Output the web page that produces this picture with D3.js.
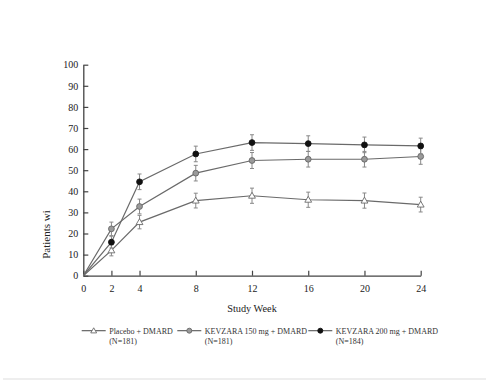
<!DOCTYPE html>
<html>
<head>
<meta charset="utf-8">
<script src="https://cdn.jsdelivr.net/npm/d3@7"></script>
<style>
  body { margin: 0; background: #fff; }
  svg text { font-family: "Liberation Serif", "DejaVu Serif", serif; }
</style>
</head>
<body>
<svg id="chart"></svg>
<script>
// Data (percent of patients, by study week)
const weeks = [0, 2, 4, 8, 12, 16, 20, 24];
const xTicks = [0, 2, 4, 8, 12, 16, 20, 24];
const yTicks = [0, 10, 20, 30, 40, 50, 60, 70, 80, 90, 100];
const placebo = [0, 12.0, 25.4, 35.6, 37.9, 36.0, 35.6, 33.7];
const kev150 = [0, 22.2, 32.8, 48.6, 54.6, 55.2, 55.2, 56.5];
const kev200 = [0, 15.9, 44.5, 57.7, 63.1, 62.6, 62.0, 61.5];
const errPlacebo = [0, 2.6, 3.2, 3.5, 3.6, 3.6, 3.6, 3.5];
const err150 = [0, 3.2, 3.5, 3.7, 3.8, 3.7, 3.7, 3.7];
const err200 = [0, 2.8, 3.7, 3.7, 3.7, 3.7, 3.7, 3.7];
const legendNames = ["Placebo + DMARD", "KEVZARA 150 mg + DMARD", "KEVZARA 200 mg + DMARD"];
const legendNs = ["(N=181)", "(N=181)", "(N=184)"];

const W = 486, H = 383;
const svg = d3.select("#chart").attr("width", W).attr("height", H);

const x = d3.scaleLinear().domain([0, 24]).range([83.3, 420.7]);
const y = d3.scaleLinear().domain([0, 100]).range([275.7, 64.7]);

const axisColor = "#444";
const lineColor = "#6a6a6a";

// y axis (inward ticks)
const gy = svg.append("g")
  .attr("transform", `translate(${x(0)},0)`)
  .call(d3.axisLeft(y).tickValues(yTicks).tickSize(-5).tickPadding(5).tickSizeOuter(0))
  .attr("font-family", null);
gy.select(".domain").attr("stroke", axisColor).attr("stroke-width", 1.3);
gy.selectAll(".tick line").attr("stroke", axisColor).attr("stroke-width", 1.2);
gy.selectAll(".tick text").attr("font-size", 10).attr("fill", "#222");

// x axis (inward ticks)
const gx = svg.append("g")
  .attr("transform", `translate(0,${y(0)})`)
  .call(d3.axisBottom(x).tickValues(xTicks).tickSize(-5).tickPadding(9).tickSizeOuter(0))
  .attr("font-family", null);
gx.select(".domain").attr("stroke", axisColor).attr("stroke-width", 1.3);
gx.selectAll(".tick line").attr("stroke", axisColor).attr("stroke-width", 1.2);
gx.selectAll(".tick text").attr("font-size", 10).attr("fill", "#222");

// axis titles
svg.append("text")
  .attr("x", x(12)).attr("y", 312)
  .attr("text-anchor", "middle").attr("font-size", 10.3).attr("fill", "#222")
  .text("Study Week");
svg.append("text")
  .attr("transform", "translate(50,234.5) rotate(-90)")
  .attr("text-anchor", "middle").attr("font-size", 11).attr("fill", "#222")
  .text("Patients wi");

const series = [
  { vals: placebo, err: errPlacebo, kind: "tri", fill: "#fff" },
  { vals: kev150, err: err150, kind: "circle", fill: "#9a9a9a" },
  { vals: kev200, err: err200, kind: "circle", fill: "#111" }
];

const line = d3.line().x((d, i) => x(weeks[i])).y(d => y(d));

function drawMarker(g, kind, fill, cx, cy, r) {
  if (kind === "tri") {
    g.append("path")
      .attr("d", d3.symbol().type(d3.symbolTriangle).size(r * r * 2.4)())
      .attr("transform", `translate(${cx},${cy + 0.5})`)
      .attr("fill", fill).attr("stroke", lineColor).attr("stroke-width", 0.9);
  } else {
    g.append("circle")
      .attr("cx", cx).attr("cy", cy).attr("r", r)
      .attr("fill", fill).attr("stroke", fill === "#111" ? "#111" : "#666").attr("stroke-width", 0.9);
  }
}

series.forEach(s => {
  const g = svg.append("g");
  g.append("path")
    .attr("d", line(s.vals))
    .attr("fill", "none").attr("stroke", lineColor).attr("stroke-width", 1.2);

  // error bars
  s.vals.forEach((v, i) => {
    if (i === 0) return;
    const cx = x(weeks[i]);
    const e = s.err[i];
    g.append("line")
      .attr("x1", cx).attr("x2", cx)
      .attr("y1", y(v + e)).attr("y2", y(v - e))
      .attr("stroke", "#888").attr("stroke-width", 1);
    [v + e, v - e].forEach(c => {
      g.append("line")
        .attr("x1", cx - 2).attr("x2", cx + 2)
        .attr("y1", y(c)).attr("y2", y(c))
        .attr("stroke", "#888").attr("stroke-width", 1);
    });
  });

  s.vals.forEach((v, i) => {
    if (i === 0) return;
    drawMarker(g, s.kind, s.fill, x(weeks[i]), y(v), 2.9);
  });
});

// legend
const legendX = [81.7, 177.3, 308.3];
const legend = svg.append("g");
series.forEach((s, i) => {
  const lx = legendX[i];
  const ly = 330.7;
  legend.append("line")
    .attr("x1", lx).attr("x2", lx + 24).attr("y1", ly).attr("y2", ly)
    .attr("stroke", "#555").attr("stroke-width", 1.1);
  drawMarker(legend, s.kind, s.fill, lx + 12, ly, 2.5);
  legend.append("text")
    .attr("x", lx + 27.5).attr("y", ly + 2.8)
    .attr("font-size", 8).attr("fill", "#333")
    .text(legendNames[i]);
  legend.append("text")
    .attr("x", lx + 27.5).attr("y", ly + 12.8)
    .attr("font-size", 8).attr("fill", "#333")
    .text(legendNs[i]);
});

// faint bottom rule
svg.append("line")
  .attr("x1", 3).attr("x2", W).attr("y1", 379).attr("y2", 379)
  .attr("stroke", "#ddd").attr("stroke-width", 1);
</script>
</body>
</html>
